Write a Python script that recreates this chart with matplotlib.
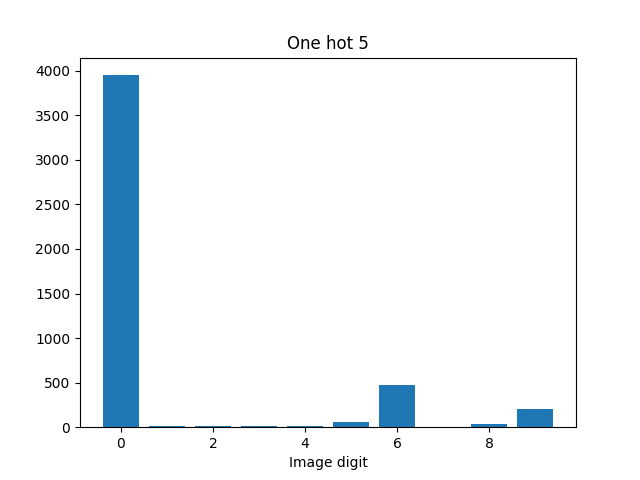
import matplotlib.pyplot as plt

# digit counts for predictions of "one hot 5"
digits = [0, 1, 2, 3, 4, 5, 6, 7, 8, 9]
counts = [3950, 12, 12, 12, 12, 58, 475, 0, 35, 205]

plt.figure(figsize=(6.4, 4.8), dpi=100)
plt.bar(digits, counts)
plt.title("One hot 5")
plt.xlabel("Image digit")
plt.savefig("out.png")
